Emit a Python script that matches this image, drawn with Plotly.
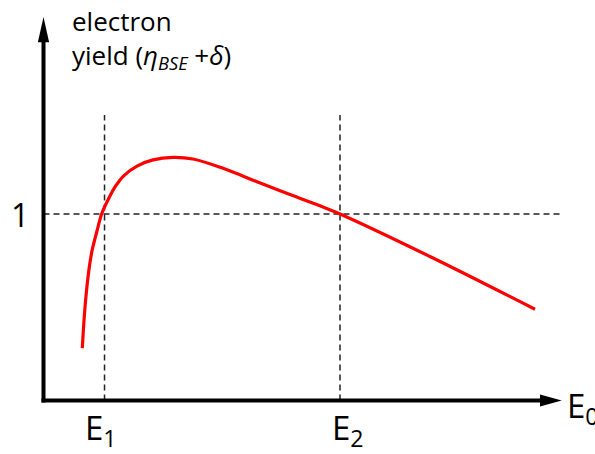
import plotly.graph_objects as go

# Electron yield (backscattered + secondary) versus primary beam energy E0
# energy in arbitrary units (E2 = 5), yield normalised so the unity line is 1
energy = [0.654, 0.700, 0.759, 0.818, 0.902, 0.986, 1.088, 1.206, 1.357, 1.577,
          1.846, 2.184, 2.521, 3.027, 3.600, 4.157, 4.713, 5.000, 6.568, 8.288]
yield_total = [0.281, 0.501, 0.684, 0.802, 0.909, 1.005, 1.075, 1.145, 1.206, 1.257,
               1.290, 1.304, 1.295, 1.245, 1.173, 1.104, 1.037, 1.000, 0.764, 0.489]

E1 = 1.029          # first crossover energy
E2 = 5.0            # second crossover energy
unity = 1.0

x_range = [-0.7336, 9.300]
y_range = [-0.2869, 2.1475]
x_axis_end = 8.739       # tip of the E0 arrow
y_axis_end = 2.056       # tip of the yield arrow
x_origin_pad = -0.034    # axis lines meet in a square corner
y_origin_pad = -0.011
dash_top = 1.531
dash_right = 8.755

BLACK = "#000000"
DASH = "#222222"

fig = go.Figure()

fig.add_trace(go.Scatter(
    x=energy, y=yield_total, mode="lines",
    line=dict(color="#ff0000", width=3.2, shape="spline", smoothing=1.0),
    hoverinfo="skip", showlegend=False,
))

shapes = []
# dashed guide lines
for e in (E1, E2):
    shapes.append(dict(type="line", xref="x", yref="y", x0=e, x1=e, y0=0, y1=dash_top,
                       line=dict(color=DASH, width=1.5, dash="6px,4px"), layer="below"))
shapes.append(dict(type="line", xref="x", yref="y", x0=0, x1=dash_right, y0=unity, y1=unity,
                   line=dict(color=DASH, width=1.5, dash="6px,4px"), layer="below"))

# axes with arrow heads
x_head_len, x_head_half = 0.366, 0.032
y_head_len, y_head_half = 0.135, 0.095
shapes.append(dict(type="line", xref="x", yref="y", x0=x_origin_pad, x1=x_axis_end - x_head_len + 0.02,
                   y0=0, y1=0, line=dict(color=BLACK, width=4)))
shapes.append(dict(type="line", xref="x", yref="y", x0=0, x1=0, y0=y_origin_pad,
                   y1=y_axis_end - y_head_len + 0.01, line=dict(color=BLACK, width=4)))
shapes.append(dict(type="path", xref="x", yref="y",
                   path=(f"M {x_axis_end - x_head_len},{-x_head_half} L {x_axis_end},0 "
                         f"L {x_axis_end - x_head_len},{x_head_half} Z"),
                   fillcolor=BLACK, line=dict(color=BLACK, width=0)))
shapes.append(dict(type="path", xref="x", yref="y",
                   path=(f"M {-y_head_half},{y_axis_end - y_head_len} L 0,{y_axis_end} "
                         f"L {y_head_half},{y_axis_end - y_head_len} Z"),
                   fillcolor=BLACK, line=dict(color=BLACK, width=0)))

FONT = "Open Sans"
annotations = [
    dict(text="electron<br>yield (<i>η</i><sub><i>BSE</i></sub> +<i>δ</i>)", x=0.45, y=1.94,
         xanchor="left", yanchor="middle", align="left",
         font=dict(size=26, color=BLACK, family=FONT)),
    dict(text="1", x=-0.39, y=unity, xanchor="center", yanchor="middle",
         font=dict(size=32, color=BLACK, family=FONT)),
    dict(text="E<sub>1</sub>", x=E1, y=-0.157, xanchor="center", yanchor="middle", xshift=-4,
         font=dict(size=33, color=BLACK, family=FONT)),
    dict(text="E<sub>2</sub>", x=E2, y=-0.157, xanchor="center", yanchor="middle", xshift=8,
         font=dict(size=33, color=BLACK, family=FONT)),
    dict(text="E<sub>0</sub>", x=x_axis_end + 0.06, y=-0.04, xanchor="left", yanchor="middle",
         font=dict(size=33, color=BLACK, family=FONT)),
]
for a in annotations:
    a.update(xref="x", yref="y", showarrow=False)

fig.update_layout(
    width=595, height=454,
    margin=dict(l=0, r=0, t=0, b=0),
    paper_bgcolor="white", plot_bgcolor="white",
    xaxis=dict(range=x_range, visible=False, fixedrange=True),
    yaxis=dict(range=y_range, visible=False, fixedrange=True),
    shapes=shapes, annotations=annotations,
    showlegend=False,
)

fig.write_html("out.html")
